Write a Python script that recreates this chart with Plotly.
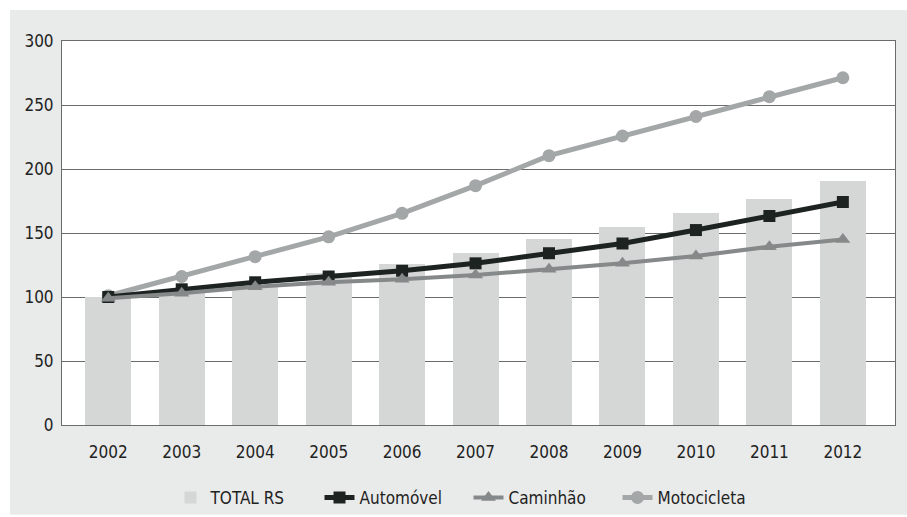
import plotly.graph_objects as go

# Índice de frota (2002 = 100)
anos = ["2002", "2003", "2004", "2005", "2006", "2007", "2008", "2009", "2010", "2011", "2012"]
total_rs = [100, 104, 109, 118.5, 126, 134, 145.5, 155, 166, 176.5, 190.5]
automovel = [100, 106, 111.5, 116, 120.5, 126.3, 134.2, 141.8, 152.3, 163.3, 174.2]
caminhao = [99, 103, 108, 111.5, 113.8, 117.2, 121.6, 126.3, 132, 139.3, 145]
motocicleta = [101, 116, 131.5, 147, 165.4, 187, 210.4, 225.8, 241, 256.5, 271.3]
y_ticks = [0, 50, 100, 150, 200, 250, 300]

FONT = "Liberation Sans Narrow, DejaVu Sans Condensed, Arial Narrow, sans-serif"
TEXT = "#1e2322"
GRID = "#6a6c6c"

xs = list(range(len(anos)))

fig = go.Figure()
fig.add_trace(go.Bar(
    x=xs, y=total_rs, name="TOTAL RS", width=0.626,
    marker=dict(color="#d5d6d6", line=dict(width=0)), legendrank=1,
))
fig.add_trace(go.Scatter(
    x=xs, y=motocicleta, name="Motocicleta", mode="lines+markers",
    line=dict(color="#a4a7a7", width=5),
    marker=dict(symbol="circle", size=13, color="#a4a7a7"), legendrank=4,
))
fig.add_trace(go.Scatter(
    x=xs, y=automovel, name="Automóvel", mode="lines+markers",
    line=dict(color="#1d2321", width=5),
    marker=dict(symbol="square", size=12, color="#1d2321"), legendrank=2,
))
fig.add_trace(go.Scatter(
    x=xs, y=caminhao, name="Caminhão", mode="lines+markers",
    line=dict(color="#868989", width=4),
    marker=dict(symbol="triangle-up", size=13, color="#868989"), legendrank=3,
))

# painel cinza de fundo
fig.add_shape(
    type="rect", xref="paper", yref="paper",
    x0=-0.0624, x1=1.02, y0=-0.234, y1=1.0807,
    fillcolor="#e9eaea", line=dict(width=0), layer="below",
)
fig.add_shape(
    type="rect", xref="paper", yref="paper",
    x0=0, x1=1, y0=0, y1=1,
    fillcolor="white", line=dict(width=0), layer="below",
)

fig.update_layout(
    width=907, height=517,
    margin=dict(l=62, r=12, t=41, b=92, autoexpand=False),
    paper_bgcolor="white",
    plot_bgcolor="rgba(0,0,0,0)",
    font=dict(family=FONT, size=17, color=TEXT),
    showlegend=True,
    legend=dict(
        orientation="h", xref="paper", x=0.488, xanchor="center",
        yref="container", y=0.037, yanchor="middle",
        font=dict(family=FONT, size=17, color=TEXT),
        bgcolor="rgba(0,0,0,0)", traceorder="normal",
        entrywidth=104, entrywidthmode="pixels",
    ),
    hovermode=False,
    bargap=0,
)
fig.update_xaxes(
    range=[-0.63, 10.71], tickmode="array", tickvals=xs, ticktext=anos,
    showgrid=False, showline=True, linecolor=GRID, linewidth=1, mirror=True,
    ticks="outside", ticklen=12, tickcolor="rgba(0,0,0,0)",
    tickfont=dict(family=FONT, size=17, color=TEXT), zeroline=False,
)
fig.update_yaxes(
    range=[0, 300], tickmode="array", tickvals=y_ticks,
    showgrid=True, gridcolor=GRID, gridwidth=1,
    showline=True, linecolor=GRID, linewidth=1, mirror=True,
    ticks="outside", ticklen=4, tickcolor="rgba(0,0,0,0)",
    tickfont=dict(family=FONT, size=17, color=TEXT), zeroline=False,
)

fig.write_html("out.html")
